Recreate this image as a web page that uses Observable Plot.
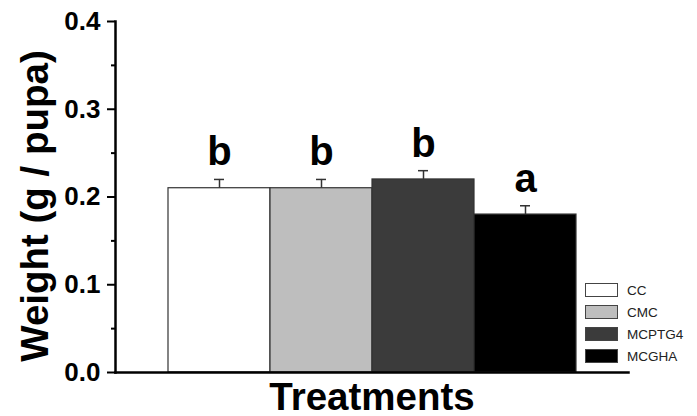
<!DOCTYPE html>
<html>
<head>
<meta charset="utf-8">
<script src="https://cdn.jsdelivr.net/npm/d3@7"></script>
<script src="https://cdn.jsdelivr.net/npm/@observablehq/plot@0.6"></script>
<style>
  body { margin: 0; background: #fff; }
  #wrap { position: relative; width: 697px; height: 416px; font-family: "Liberation Sans", Arial, sans-serif; }
  #legend { position: absolute; left: 585px; top: 279px; }
  .row { display: flex; align-items: center; height: 22px; }
  .sw { width: 33px; height: 14px; border: 1px solid #444; box-sizing: border-box; margin-right: 9px; }
  .lab { font-size: 13.5px; color: #222; }
</style>
</head>
<body>
<div id="wrap"></div>
<script>
const treatments = ["CC", "CMC", "MCPTG4", "MCGHA"];
const means = [0.21, 0.21, 0.22, 0.18];
const errors = [0.01, 0.01, 0.01, 0.01];
const letters = ["b", "b", "b", "a"];
const fills = ["#ffffff", "#bebebe", "#3b3b3b", "#000000"];
const majorTicks = [0, 0.1, 0.2, 0.3, 0.4];
const minorTicks = [0.05, 0.15, 0.25, 0.35];

const data = treatments.map((t, i) => ({
  name: t, value: means[i], hi: means[i] + errors[i], letter: letters[i]
}));

const chart = Plot.plot({
  width: 697,
  height: 416,
  marginLeft: 115,
  marginRight: 69,
  marginTop: 21,
  marginBottom: 44,
  style: { fontFamily: "'Liberation Sans', Arial, sans-serif", background: "#fff", color: "#000", overflow: "visible" },
  x: { domain: treatments, paddingInner: 0, paddingOuter: 0.5, axis: null },
  y: { domain: [0, 0.4], axis: null },
  color: { domain: treatments, range: fills },
  marks: [
    Plot.barY(data, { x: "name", y: "value", fill: "name", stroke: "#333", strokeWidth: 1.2 }),
    Plot.ruleX(data, { x: "name", y1: "value", y2: "hi", stroke: "#333", strokeWidth: 1.5 }),
    Plot.tickY(data, { x: "name", y: "hi", insetLeft: 46, insetRight: 46, stroke: "#333", strokeWidth: 1.5 }),
    Plot.text(data, { x: "name", y: "hi", text: "letter", lineAnchor: "bottom", dy: -14, fontSize: 40, fontWeight: "bold", fill: "#000" }),
    Plot.axisY({ ticks: majorTicks, tickSize: 8, tickPadding: 7, tickFormat: d3.format(".1f"), fontSize: 26, fontWeight: "bold", label: null, strokeWidth: 2 }),
    Plot.axisY({ ticks: minorTicks, tickSize: 4, text: null, label: null, strokeWidth: 2 }),
    Plot.frame({ anchor: "left", strokeWidth: 2.5 }),
    Plot.frame({ anchor: "bottom", strokeWidth: 2.5 }),
    Plot.text(["Weight (g / pupa)"], { frameAnchor: "left", textAnchor: "middle", lineAnchor: "middle", rotate: -90, dx: -80, dy: 9, fontSize: 38.5, fontWeight: "bold", fill: "#000" }),
    Plot.text(["Treatments"], { frameAnchor: "bottom", textAnchor: "middle", lineAnchor: "bottom", dy: 37, fontSize: 38.5, fontWeight: "bold", fill: "#000" })
  ]
});

const wrap = document.getElementById("wrap");
wrap.appendChild(chart);

const legend = document.createElement("div");
legend.id = "legend";
treatments.forEach((t, i) => {
  const row = document.createElement("div");
  row.className = "row";
  const sw = document.createElement("div");
  sw.className = "sw";
  sw.style.background = fills[i];
  const lab = document.createElement("span");
  lab.className = "lab";
  lab.textContent = t;
  row.appendChild(sw);
  row.appendChild(lab);
  legend.appendChild(row);
});
wrap.appendChild(legend);
</script>
</body>
</html>
